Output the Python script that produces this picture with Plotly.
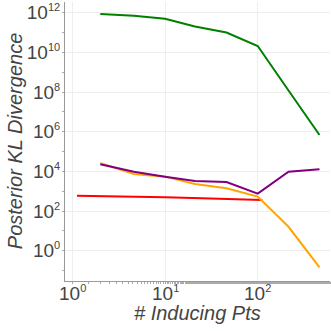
import plotly.graph_objects as go

x_pts = [2, 4.6, 10, 21, 46, 100, 215, 464]

green_kl = [8.7e11, 7e11, 5e11, 2e11, 1e11, 2.1e10, 1.2e8, 6.8e5]
purple_kl = [2.3e4, 9.6e3, 5.4e3, 3.3e3, 2.9e3, 750, 9.6e3, 1.27e4]
orange_kl = [2.6e4, 7.4e3, 5.4e3, 2.3e3, 1.4e3, 530, 16, 0.145]

red_x = [1.12, 2, 5, 10, 20, 50, 112]
red_kl = [590, 570, 530, 490, 450, 400, 360]

x_tick_exp = [0, 1, 2]
y_tick_exp = [0, 2, 4, 6, 8, 10, 12]


def pow_label(e):
    return "10<sup><span style='font-size:11px'>%d</span></sup>" % e


fig = go.Figure()

fig.add_trace(go.Scatter(x=red_x, y=red_kl, mode="lines",
                         line=dict(color="red", width=2)))
fig.add_trace(go.Scatter(x=x_pts, y=orange_kl, mode="lines",
                         line=dict(color="orange", width=2)))
fig.add_trace(go.Scatter(x=x_pts, y=purple_kl, mode="lines",
                         line=dict(color="purple", width=2)))
fig.add_trace(go.Scatter(x=x_pts, y=green_kl, mode="lines",
                         line=dict(color="green", width=2)))

axis_style = dict(
    showgrid=True,
    gridcolor="#eeeeee",
    showline=True,
    linecolor="#999999",
    linewidth=1,
    ticks="",
    zeroline=False,
    automargin=False,
    ticklabeloverflow="allow",
    tickfont=dict(family="Liberation Sans", size=19, color="#444444"),
    minor=dict(ticks="outside", ticklen=2, tickcolor="#aaaaaa", showgrid=False),
)

title_font = dict(family="Liberation Sans", size=20, color="#444444")

# x tick labels drawn as annotations so they sit as close to the axis as in the original
fig.update_xaxes(type="log", range=[-0.08, 2.78],
                 tickvals=[10 ** e for e in x_tick_exp],
                 showticklabels=False,
                 **axis_style)
fig.update_yaxes(type="log", range=[-1.53, 12.54],
                 tickvals=[10 ** e for e in y_tick_exp],
                 ticktext=[pow_label(e) for e in y_tick_exp],
                 **axis_style)

for e in x_tick_exp:
    fig.add_annotation(text=pow_label(e), x=e, xref="x", y=0, yref="paper",
                       xanchor="center", yanchor="middle", yshift=-12,
                       showarrow=False,
                       font=dict(family="Liberation Sans", size=19, color="#444444"))

fig.add_annotation(text="<i># Inducing Pts</i>", xref="paper", yref="paper",
                   x=0.5, y=-0.115, xanchor="center", yanchor="middle",
                   showarrow=False, font=title_font)
fig.add_annotation(text="<i>Posterior KL Divergence</i>", xref="paper", yref="paper",
                   x=-0.19, y=0.5, xanchor="center", yanchor="middle", textangle=-90,
                   showarrow=False, font=title_font)

fig.update_layout(
    width=331,
    height=331,
    showlegend=False,
    plot_bgcolor="white",
    paper_bgcolor="white",
    margin=dict(l=65, r=1, t=2, b=50),
    font=dict(family="Liberation Sans"),
)

# page has a default 8px body margin; drop it so the figure sits at 0,0
fig.write_html("out.html", config={"displayModeBar": False},
               post_script="document.body.style.margin='0px';")
